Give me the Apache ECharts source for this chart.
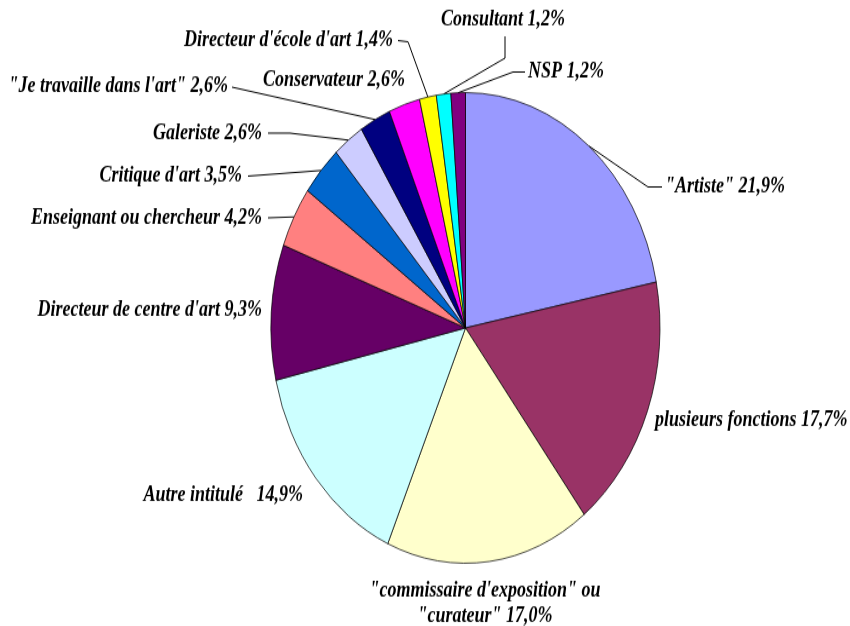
<!DOCTYPE html>
<html>
<head>
<meta charset="utf-8">
<script src="https://cdn.jsdelivr.net/npm/echarts@6/dist/echarts.min.js"></script>
<style>
html{margin:0;padding:0;background:#fff;}
body{margin:0;padding:0;background:#fff;width:850px;height:626px;}
#chart{width:850px;height:517px;transform:scaleY(1.21);transform-origin:0 0;}
</style>
</head>
<body>
<div id="chart"></div>
<script>
// Data (clockwise from 12 o'clock)
const categories = ['"Artiste"', 'plusieurs fonctions', '"commissaire d\'exposition" ou\n"curateur"', 'Autre intitulé  ', 'Directeur de centre d\'art', 'Enseignant ou chercheur', 'Critique d\'art', 'Galeriste', '"Je travaille dans l\'art"', 'Conservateur', 'Directeur d\'école d\'art', 'Consultant', 'NSP'];
const values = [21.9, 17.7, 17.0, 14.9, 9.3, 4.2, 3.5, 2.6, 2.6, 2.6, 1.4, 1.2, 1.2];
const colors = ['#9999FF', '#993366', '#FFFFCC', '#CCFFFF', '#660066', '#FF8080', '#0066CC', '#CCCCFF', '#000080', '#FF00FF', '#FFFF00', '#00FFFF', '#800080'];

// Label placement (unstretched px): anchor x, y, align, and optional leader bend points
const labelPlace = [
  {x: 665, y: 154.5, align: 'left', line: [[648, 154.5], [662, 154.5]]},
  {x: 655, y: 347, align: 'left'},
  {x: 485, y: 499, align: 'center'},
  {x: 303, y: 409, align: 'right'},
  {x: 262, y: 256, align: 'right'},
  {x: 262, y: 180, align: 'right', line: [[268, 180]]},
  {x: 242, y: 145.5, align: 'right', line: [[248, 145.5]]},
  {x: 262, y: 110, align: 'right', line: [[290, 110], [268, 110]]},
  {x: 228, y: 71, align: 'right', line: [[232, 72]]},
  {x: 405, y: 66, align: 'right'},
  {x: 393, y: 33, align: 'right', line: [[408, 34.5], [398, 33.5]]},
  {x: 503, y: 16.5, align: 'center', line: [[505, 48], [505, 30]]},
  {x: 528, y: 59.5, align: 'left', line: [[513, 59.5], [525, 59.5]]}
];

const seriesData = categories.map((n, i) => ({
  name: n,
  value: values[i],
  itemStyle: {color: colors[i]},
  labelLine: {show: !!labelPlace[i].line}
}));

const chart = echarts.init(document.getElementById('chart'), null, {renderer: 'canvas', width: 850, height: 517});
chart.setOption({
  animation: false,
  backgroundColor: '#ffffff',
  series: [{
    type: 'pie',
    center: [465.5, 271],
    radius: [0, 194.5],
    startAngle: 90,
    clockwise: true,
    avoidLabelOverlap: false,
    silent: true,
    data: seriesData,
    itemStyle: {borderColor: '#000000', borderWidth: 0.7},
    label: {
      show: true,
      position: 'outside',
      color: '#000000',
      fontFamily: '"Liberation Serif", "DejaVu Serif", serif',
      fontStyle: 'italic',
      fontWeight: 'bold',
      fontSize: 18,
      lineHeight: 21.5,
      formatter: p => p.name + ' ' + p.value.toFixed(1).replace('.', ',') + '%'
    },
    labelLine: {
      lineStyle: {color: '#000000', width: 1},
      length: 10, length2: 10
    },
    labelLayout: function (params) {
      const lp = labelPlace[params.dataIndex];
      const out = {x: lp.x, y: lp.y, align: lp.align, verticalAlign: 'middle', moveOverlap: false, hideOverlap: false};
      if (lp.line && params.labelLinePoints) {
        out.labelLinePoints = [params.labelLinePoints[0]].concat(lp.line);
      }
      return out;
    }
  }]
});
</script>
</body>
</html>
